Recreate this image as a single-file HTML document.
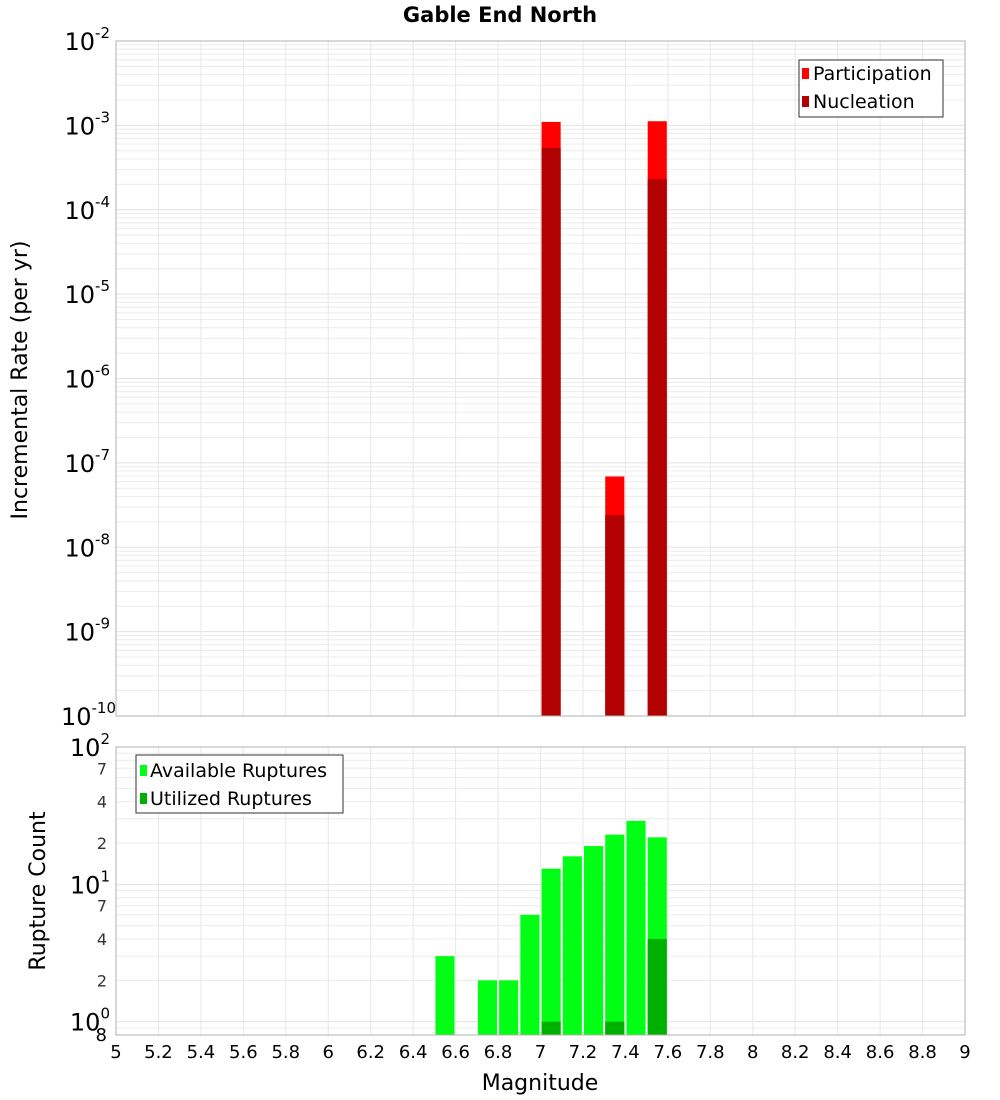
<!DOCTYPE html>
<html><head><meta charset="utf-8">
<style>
body{margin:0;background:#fff;}
svg{display:block;font-family:"DejaVu Sans","Liberation Sans",sans-serif;}
</style></head>
<body>
<svg id="chart" width="1000" height="1100" viewBox="0 0 1000 1100">
<text x="500" y="22" text-anchor="middle" font-size="21" font-weight="bold">Gable End North</text>
<g id="topPlot"></g>
<g id="botPlot"></g>
<text transform="translate(27,380) rotate(-90)" text-anchor="middle" font-size="22">Incremental Rate (per yr)</text>
<text transform="translate(45,891) rotate(-90)" text-anchor="middle" font-size="22">Rupture Count</text>
<text x="540" y="1090" text-anchor="middle" font-size="22">Magnitude</text>
<g>
<rect x="799" y="60" width="144" height="57" fill="#fff" stroke="#333" stroke-width="1"/>
<rect x="802" y="68" width="7" height="11" fill="#ff0000"/>
<text x="813" y="80" font-size="19">Participation</text>
<rect x="802" y="96" width="7" height="11" fill="#b30000"/>
<text x="813" y="108" font-size="19">Nucleation</text>
</g>
<g>
<rect x="136" y="755" width="207" height="58" fill="#fff" stroke="#333" stroke-width="1"/>
<rect x="140" y="765" width="7" height="11" fill="#00ff14"/>
<text x="150" y="777" font-size="19">Available Ruptures</text>
<rect x="140" y="793" width="7" height="11" fill="#00b000"/>
<text x="150" y="805" font-size="19">Utilized Ruptures</text>
</g>
</svg>
<script>
const rateMags = [7.05, 7.35, 7.55];
const participation = [1.1e-3, 6.9e-8, 1.12e-3];
const nucleation = [5.4e-4, 2.4e-8, 2.3e-4];
const countMags = [6.55, 6.75, 6.85, 6.95, 7.05, 7.15, 7.25, 7.35, 7.45, 7.55];
const available = [3, 2, 2, 6, 13, 16, 19, 23, 29, 22];
const utilMags = [7.05, 7.35, 7.55];
const utilized = [1, 1, 4];
const xTicks = [5,5.2,5.4,5.6,5.8,6,6.2,6.4,6.6,6.8,7,7.2,7.4,7.6,7.8,8,8.2,8.4,8.6,8.8,9];

const NS = "http://www.w3.org/2000/svg";
const X0=116, X1=965;
const xs = m => X0 + (m-5)/(9-5)*(X1-X0);
const T0=41, T1=716;
const yTop = v => T1 - (Math.log10(v)+10)/8*(T1-T0);
const B0=747, B1=1035;
const BMIN=Math.log10(0.8), BMAX=2;
const yBot = v => B1 - (Math.log10(v)-BMIN)/(BMAX-BMIN)*(B1-B0);
function mk(tag, attrs, parent){const e=document.createElementNS(NS,tag);for(const k in attrs)e.setAttribute(k,attrs[k]);parent.appendChild(e);return e;}
const svgEl=document.getElementById('chart');
const topG=document.getElementById('topPlot'), botG=document.getElementById('botPlot');

function grid(g, y0, y1, yf, lo, hi){
  mk('rect',{x:X0,y:y0,width:X1-X0,height:y1-y0,fill:'#fff'},g);
  for(let d=Math.floor(lo);d<hi;d++){for(let k=1;k<10;k++){const v=k*Math.pow(10,d);const lv=Math.log10(v);if(lv<lo-1e-9||lv>hi+1e-9)continue;const y=yf(v);
    const l=mk('line',{x1:X0,x2:X1,y1:y,y2:y,stroke:k===1?'#e2e2e2':'#ececec','stroke-width':1},g);
    
    }}
  for(const t of xTicks){const x=xs(t);const l=mk('line',{x1:x,x2:x,y1:y0,y2:y1,stroke:'#e8e8e8','stroke-width':1},g);
    
    }
}
grid(topG,T0,T1,yTop,-10,-2);
grid(botG,B0,B1,yBot,BMIN,BMAX);

const bw = 0.09*(X1-X0)/4;
rateMags.forEach((m,i)=>{
  const r=mk('rect',{x:xs(m)-bw/2,y:yTop(participation[i]),width:bw,height:T1-yTop(participation[i]),fill:'#ff0000'},topG);
  
  
  const n=mk('rect',{x:xs(m)-bw/2,y:yTop(nucleation[i]),width:bw,height:T1-yTop(nucleation[i]),fill:'#b30000'},topG);
  
  
});
countMags.forEach((m,i)=>{
  const r=mk('rect',{x:xs(m)-bw/2,y:yBot(available[i]),width:bw,height:B1-yBot(available[i]),fill:'#00ff14'},botG);
  
  
});
utilMags.forEach((m,i)=>{
  const r=mk('rect',{x:xs(m)-bw/2,y:yBot(utilized[i]),width:bw,height:B1-yBot(utilized[i]),fill:'#00b000'},botG);
  
  
});
mk('rect',{x:X0,y:T0,width:X1-X0,height:T1-T0,fill:'none',stroke:'#b0b0b0'},topG);
mk('rect',{x:X0,y:B0,width:X1-X0,height:B1-B0,fill:'none',stroke:'#b0b0b0'},botG);

for(let e=-10;e<=-2;e++){const y=yTop(Math.pow(10,e));
  const t=mk('text',{x:e===-10?116:110,y:y+9,'text-anchor':'end','font-size':24},svgEl);
  
  
  t.innerHTML='10<tspan dy="-12" font-size="15">'+e+'</tspan>';
}
[0,1,2].forEach(e=>{const y=yBot(Math.pow(10,e));
  const t=mk('text',{x:110,y:y+9,'text-anchor':'end','font-size':24},svgEl);
  
  
  t.innerHTML='10<tspan dy="-12" font-size="15">'+e+'</tspan>';
});
const minorLbl=[0.8,2,4,7,20,40,70];
minorLbl.forEach(v=>{const y=yBot(v);
  const t=mk('text',{x:107,y:y+6,'text-anchor':'end','font-size':v===0.8?18:16,fill:v===0.8?'#000':'#333'},svgEl);
  
  
  t.textContent=v===0.8?'8':String(v<10?v:v/10);
});
xTicks.forEach(v=>{
  const t=mk('text',{x:xs(v),y:1058,'text-anchor':'middle','font-size':18},svgEl);
  
  
  t.textContent=String(v);
});
</script>
</body></html>
